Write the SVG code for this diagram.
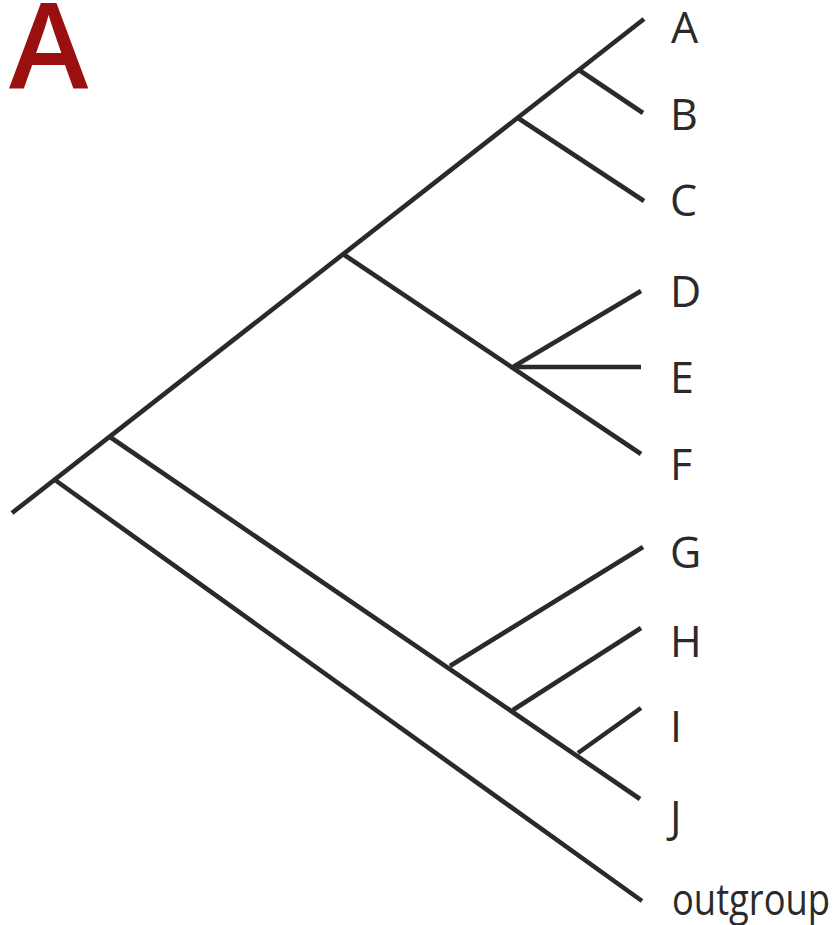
<svg xmlns="http://www.w3.org/2000/svg" width="837" height="925" viewBox="0 0 837 925">
<style>
.br{stroke:#2a2a2a;stroke-width:4.6;fill:none;stroke-linecap:butt}
.lb{font-family:"Open Sans","DejaVu Sans",sans-serif;font-size:43px;fill:#2a2a2a}
.title{font-family:"Open Sans","Liberation Sans",sans-serif;font-weight:600;font-size:120px;fill:#9a1010}
</style>
<rect width="837" height="925" fill="#ffffff"/>
<text class="title" x="9" y="89">A</text>
<g id="connectors">
<line class="br" x1="12" y1="513" x2="644" y2="19"/>
<line class="br" x1="579" y1="70" x2="643" y2="113"/>
<line class="br" x1="518" y1="118" x2="644" y2="201"/>
<line class="br" x1="343" y1="254" x2="641" y2="454"/>
<line class="br" x1="513" y1="367" x2="641" y2="291"/>
<line class="br" x1="513" y1="367" x2="641" y2="367"/>
<line class="br" x1="110" y1="437" x2="640" y2="799"/>
<line class="br" x1="450" y1="666" x2="643" y2="547"/>
<line class="br" x1="513" y1="710" x2="641" y2="628"/>
<line class="br" x1="578" y1="753" x2="641" y2="708"/>
<line class="br" x1="55" y1="480" x2="642" y2="901"/>
</g>
<g id="A"><text class="lb" x="671" y="43">A</text></g>
<g id="B"><text class="lb" x="670" y="130">B</text></g>
<g id="C"><text class="lb" x="670" y="216">C</text></g>
<g id="D"><text class="lb" x="670" y="307">D</text></g>
<g id="E"><text class="lb" x="670" y="393">E</text></g>
<g id="F"><text class="lb" x="670" y="480">F</text></g>
<g id="G"><text class="lb" x="670" y="568">G</text></g>
<g id="H"><text class="lb" x="670" y="657">H</text></g>
<g id="I"><text class="lb" x="670" y="742">I</text></g>
<g id="J"><text class="lb" x="670" y="832">J</text></g>
<g id="outgroup"><text class="lb" x="672" y="915" textLength="158" lengthAdjust="spacingAndGlyphs">outgroup</text></g>
</svg>
